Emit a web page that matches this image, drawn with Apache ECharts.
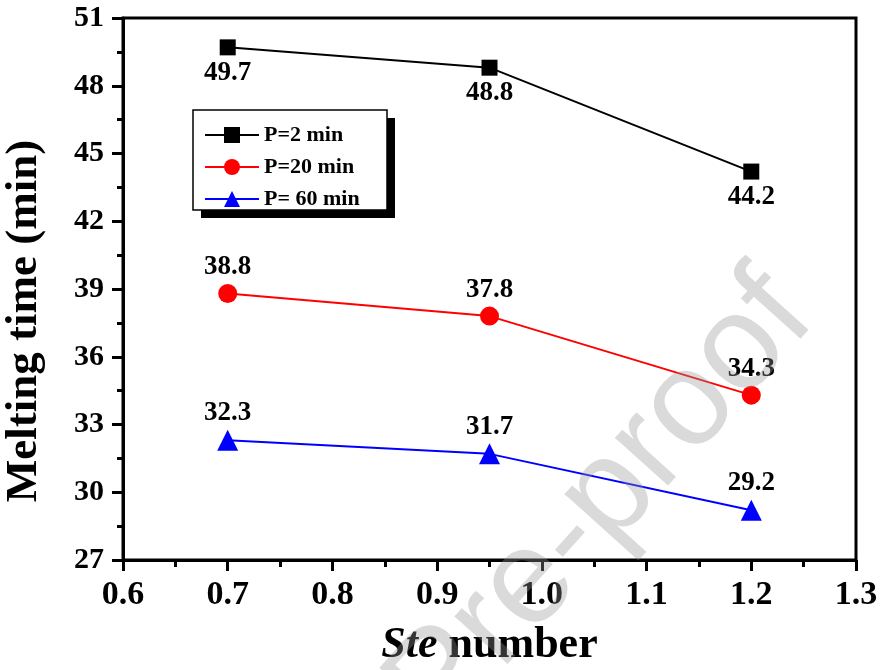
<!DOCTYPE html>
<html>
<head>
<meta charset="utf-8">
<script src="https://cdn.jsdelivr.net/npm/echarts@6/dist/echarts.min.js"></script>
<style>html,body{margin:0;padding:0;background:#fff;}#c{width:881px;height:670px;}</style>
</head>
<body>
<div id="c"></div>
<script>
const steNumbers = [0.7, 0.95, 1.2];
const p2 = [49.7, 48.8, 44.2];
const p20 = [38.8, 37.8, 34.3];
const p60 = [32.3, 31.7, 29.2];
const seriesNames = ['P=2 min', 'P=20 min', 'P= 60 min'];

const FONT = '"Liberation Serif", "Times New Roman", serif';
const chart = echarts.init(document.getElementById('c'));
function pts(v){ return steNumbers.map((x,i)=>[x, v[i]]); }
const lbl = (pos, dist) => ({show:true, position:pos, distance:dist, fontFamily:FONT, fontWeight:'bold', fontSize:27, color:'#000', formatter:p=>p.value[1].toFixed(1)});
chart.setOption({
  animation:false,
  backgroundColor:'#fff',
  graphic:[
    {type:'rect', shape:{x:201, y:118, width:194, height:100}, style:{fill:'#000'}, z:5},
    {type:'rect', shape:{x:193, y:110, width:194, height:100}, style:{fill:'#fff', stroke:'#000', lineWidth:1.5}, z:6},
    {type:'text', x:840, y:340, rotation:Math.PI*48/180, z:50, silent:true,
      style:{text:'Journal Pre-proof', textAlign:'right', textVerticalAlign:'bottom',
        font:'135px "Liberation Sans", Arial, sans-serif', fill:'rgba(150,150,150,0.35)'}}
  ],
  grid:{left:123, top:18, right:25, bottom:110, show:true, borderColor:'#000', borderWidth:3, backgroundColor:'transparent', containLabel:false, outerBoundsMode:'none'},
  legend:{
    orient:'vertical', left:204, top:123, itemWidth:54, itemHeight:20, itemGap:8,
    padding:0, z:10,
    textStyle:{fontFamily:FONT, fontWeight:'bold', fontSize:22, color:'#000', lineHeight:24},
    data:seriesNames
  },
  xAxis:{type:'value', min:0.6, max:1.3, interval:0.1,
    name:'{i|Ste} number', nameLocation:'middle', nameGap:64,
    nameTextStyle:{fontFamily:FONT, fontWeight:'bold', fontSize:44, color:'#000',
      rich:{i:{fontFamily:FONT, fontWeight:'bold', fontStyle:'italic', fontSize:44, color:'#000'}}},
    axisLine:{lineStyle:{color:'#000', width:3}},
    axisTick:{inside:false, length:11, lineStyle:{width:3, color:'#000'}},
    minorTick:{show:true, splitNumber:2, length:7, lineStyle:{width:3, color:'#000'}},
    splitLine:{show:false},
    axisLabel:{margin:18, fontFamily:FONT, fontWeight:'bold', fontSize:34, color:'#000', formatter:v=>v.toFixed(1)}
  },
  yAxis:{type:'value', min:27, max:51, interval:3,
    name:'Melting time (min)', nameLocation:'middle', nameGap:76, nameRotate:90,
    nameTextStyle:{fontFamily:FONT, fontWeight:'bold', fontSize:45, color:'#000', padding:[0,64,0,0]},
    axisLine:{lineStyle:{color:'#000', width:3}},
    axisTick:{inside:false, length:11, lineStyle:{width:3, color:'#000'}},
    minorTick:{show:true, splitNumber:2, length:6, lineStyle:{width:3, color:'#000'}},
    splitLine:{show:false},
    axisLabel:{margin:19, fontFamily:FONT, fontWeight:'bold', fontSize:30, color:'#000'}
  },
  series:[
    {name:seriesNames[0], type:'line', data:pts(p2), symbol:'rect', symbolSize:16, z:3,
      lineStyle:{color:'#000', width:2}, itemStyle:{color:'#000'}, label:lbl('bottom', 4)},
    {name:seriesNames[1], type:'line', data:pts(p20), symbol:'circle', symbolSize:19, z:3,
      lineStyle:{color:'#ff0000', width:2}, itemStyle:{color:'#ff0000'}, label:lbl('top', 3)},
    {name:seriesNames[2], type:'line', data:pts(p60), symbol:'triangle', symbolSize:21, z:3,
      lineStyle:{color:'#0000ff', width:2}, itemStyle:{color:'#0000ff'}, label:lbl('top', 3)}
  ]
});
</script>
</body>
</html>
